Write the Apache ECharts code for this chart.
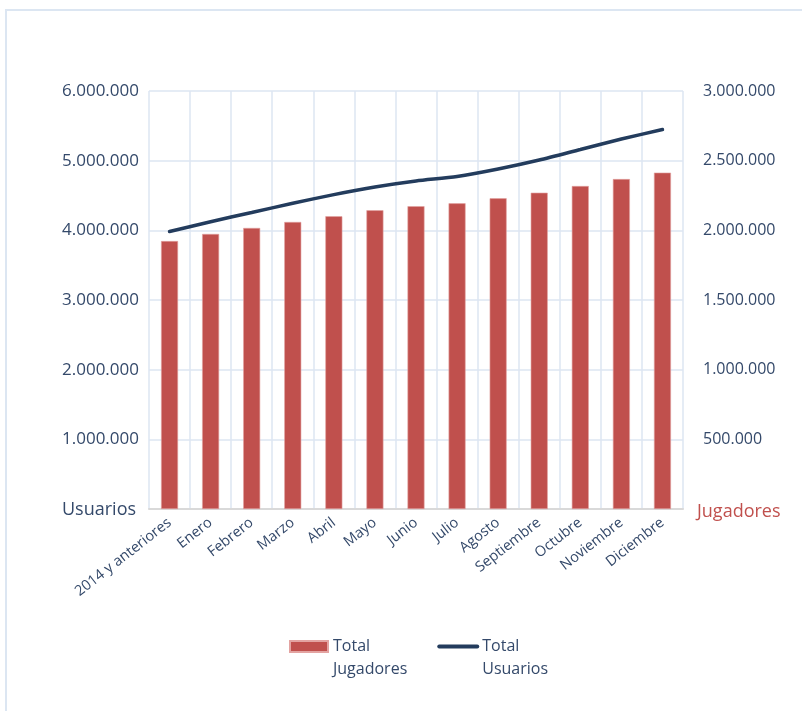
<!DOCTYPE html>
<html>
<head>
<meta charset="utf-8">
<script src="https://cdn.jsdelivr.net/npm/echarts@6/dist/echarts.min.js"></script>
<style>
html,body{margin:0;padding:0;background:#fff;}
#c{width:802px;height:711px;}
</style>
</head>
<body>
<div id="c"></div>
<script>
const categories = ['2014 y anteriores','Enero','Febrero','Marzo','Abril','Mayo','Junio','Julio','Agosto','Septiembre','Octubre','Noviembre','Diciembre'];
const totalJugadores = [1923000,1974000,2017000,2060000,2101000,2144000,2173000,2194000,2230000,2270000,2318000,2368000,2414000];
const totalUsuarios = [3983000,4124000,4256000,4389000,4513000,4622000,4708000,4773000,4880000,5009000,5160000,5311000,5447000];
const leftTicks = {min:0, max:6000000, interval:1000000};
const rightTicks = {min:0, max:3000000, interval:500000};

const TXT = '#34496a';
const RED = '#c0504d';
const NAVY = '#233c5d';
const GRID = '#dce6f2';
const FONT = '"Open Sans", "Noto Sans", sans-serif';

function fmt(v){ return String(v).replace(/\B(?=(\d{3})+(?!\d))/g, '.'); }

const chart = echarts.init(document.getElementById('c'), null, {renderer:'canvas'});
chart.setOption({
  backgroundColor:'#fff',
  animation:false,
  textStyle:{fontFamily:FONT},
  grid:{left:149, top:91, right:119, bottom:202, containLabel:false},
  legend:{
    top: 607, left: 284,
    itemGap: 30, itemWidth: 38, itemHeight: 11,
    data:[{name:'Total Jugadores', icon:'rect'},
          {name:'Total Usuarios', itemStyle:{opacity:0}, lineStyle:{width:4, color:NAVY}}],
    formatter: n => ' \n' + n.replace(' ', '\n'),
    textStyle:{color:TXT, fontSize:16, fontFamily:FONT, lineHeight:23}
  },
  xAxis:{
    type:'category', data:categories, boundaryGap:true,
    axisLine:{show:true, lineStyle:{color:'#d9d9d9', width:2}},
    axisTick:{show:false},
    splitLine:{show:true, interval:0, lineStyle:{color:GRID, width:1.5}},
    axisLabel:{interval:0, rotate:38, color:TXT, fontSize:14.5, fontFamily:FONT, margin:12}
  },
  yAxis:[
    {type:'value', min:leftTicks.min, max:leftTicks.max, interval:leftTicks.interval,
     axisLine:{show:false}, axisTick:{show:false},
     splitLine:{show:true, lineStyle:{color:GRID, width:1.5}},
     axisLabel:{color:TXT, fontSize:17, fontFamily:FONT, margin:10,
       formatter: v => v===0 ? '' : fmt(v)}},
    {type:'value', min:rightTicks.min, max:rightTicks.max, interval:rightTicks.interval,
     axisLine:{show:false}, axisTick:{show:false}, splitLine:{show:false},
     axisLabel:{color:TXT, fontSize:16, fontFamily:FONT, margin:20,
       formatter: v => v===0 ? '' : fmt(v)}}
  ],
  series:[
    {name:'Total Jugadores', type:'bar', yAxisIndex:1, data:totalJugadores,
     barWidth:17, itemStyle:{color:RED, borderColor:'#e3a3a1', borderWidth:0.6}},
    {name:'Total Usuarios', type:'line', yAxisIndex:0, data:totalUsuarios,
     symbol:'none', smooth:0.25, lineStyle:{color:NAVY, width:3.5, cap:'round'}, itemStyle:{color:NAVY}, z:5}
  ],
  graphic:[
    {type:'rect', silent:true, shape:{x:6, y:10, width:830, height:740},
     style:{fill:'none', stroke:GRID, lineWidth:2}},
    {type:'text', x:62, y:510, style:{text:'Usuarios', fill:TXT, font:'18px "Open Sans", sans-serif', verticalAlign:'middle'}},
    {type:'text', x:697, y:512, style:{text:'Jugadores', fill:RED, font:'18px "Open Sans", sans-serif', verticalAlign:'middle'}}
  ]
});
</script>
</body>
</html>
